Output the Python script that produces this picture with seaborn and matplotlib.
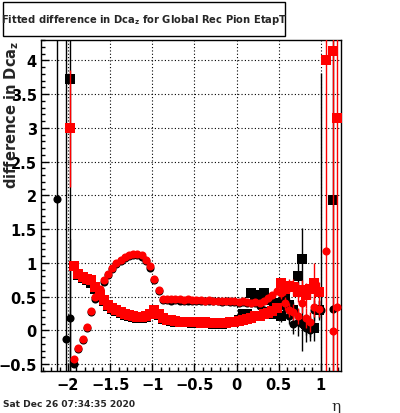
import matplotlib
matplotlib.use("Agg")
import matplotlib.pyplot as plt
import seaborn as sns
from matplotlib.patches import Rectangle
from matplotlib.ticker import MultipleLocator

# eta bin centres shared by the four fitted curves
ETA_BINS = [-1.925, -1.875, -1.825, -1.775, -1.725, -1.675, -1.625, -1.575, -1.525, -1.475,
            -1.425, -1.375, -1.325, -1.275, -1.225, -1.175, -1.125, -1.075, -1.025, -0.975,
            -0.925, -0.875, -0.825, -0.775, -0.725, -0.675, -0.625, -0.575, -0.525, -0.475,
            -0.425, -0.375, -0.325, -0.275, -0.225, -0.175, -0.125, -0.075, -0.025, 0.025,
            0.075, 0.125, 0.175, 0.225, 0.275, 0.325, 0.375, 0.425, 0.475, 0.525,
            0.575, 0.625, 0.675, 0.725, 0.775, 0.825, 0.875, 0.925, 0.975]

# sigma-like curve (squares)
RED_SIGMA = [0.96, 0.84, 0.79, 0.76, 0.74, 0.65, 0.53, 0.45, 0.37, 0.33,
             0.30, 0.27, 0.24, 0.23, 0.21, 0.20, 0.20, 0.21, 0.25, 0.30,
             0.24, 0.18, 0.16, 0.15, 0.14, 0.13, 0.13, 0.12, 0.12, 0.12,
             0.11, 0.12, 0.11, 0.11, 0.11, 0.11, 0.11, 0.12, 0.13, 0.14,
             0.16, 0.17, 0.19, 0.21, 0.22, 0.24, 0.26, 0.29, 0.34, 0.70,
             0.62, 0.66, 0.64, 0.57, 0.60, 0.52, 0.62, 0.70, 0.57]
RED_SIGMA_ERR = [0.02] * 49 + [0.08, 0.10, 0.10, 0.12, 0.15, 0.15, 0.18, 0.15, 0.30, 0.15]

BLACK_SIGMA = [0.95, 0.82, 0.77, 0.74, 0.70, 0.62, 0.50, 0.43, 0.36, 0.32,
               0.29, 0.26, 0.23, 0.22, 0.20, 0.19, 0.19, 0.20, 0.24, 0.29,
               0.23, 0.17, 0.15, 0.14, 0.13, 0.13, 0.12, 0.12, 0.11, 0.11,
               0.11, 0.11, 0.11, 0.10, 0.11, 0.10, 0.11, 0.12, 0.13, 0.15,
               0.25, 0.24, 0.55, 0.53, 0.53, 0.55, 0.45, 0.25, 0.41, 0.21,
               0.48, 0.38, 0.30, 0.80, 1.06, 0.09, 0.06, 0.04, 0.30]
BLACK_SIGMA_ERR = [0.02] * 49 + [0.08, 0.10, 0.10, 0.12, 0.20, 0.45, 0.15, 0.15, 0.20, 0.15]

# mean-like curve (circles)
RED_MEAN = [-0.42, -0.26, -0.12, 0.05, 0.29, 0.49, 0.62, 0.74, 0.84, 0.93,
            1.00, 1.05, 1.09, 1.12, 1.13, 1.13, 1.11, 1.05, 0.95, 0.76,
            0.60, 0.47, 0.46, 0.46, 0.46, 0.46, 0.45, 0.46, 0.45, 0.45,
            0.45, 0.44, 0.45, 0.44, 0.44, 0.43, 0.44, 0.43, 0.43, 0.42,
            0.43, 0.42, 0.41, 0.42, 0.41, 0.44, 0.48, 0.53, 0.58, 0.55,
            0.40, 0.30, 0.27, 0.22, 0.41, 0.18, 0.12, 0.35, 0.32]
RED_MEAN_ERR = [0.02] * 49 + [0.08, 0.10, 0.10, 0.12, 0.12, 0.15, 0.15, 0.15, 0.15, 0.12]

BLACK_MEAN = [-0.50, -0.28, -0.14, 0.03, 0.27, 0.47, 0.60, 0.72, 0.82, 0.91,
              0.98, 1.03, 1.07, 1.10, 1.11, 1.11, 1.09, 1.03, 0.93, 0.74,
              0.58, 0.45, 0.45, 0.44, 0.45, 0.44, 0.44, 0.44, 0.44, 0.43,
              0.44, 0.43, 0.43, 0.43, 0.43, 0.42, 0.43, 0.42, 0.42, 0.41,
              0.42, 0.40, 0.40, 0.40, 0.36, 0.30, 0.26, 0.40, 0.30, 0.45,
              0.35, 0.22, 0.10, 0.12, 0.10, 0.03, 0.00, 0.30, 0.31]
BLACK_MEAN_ERR = [0.02] * 49 + [0.10, 0.10, 0.12, 0.15, 0.20, 0.40, 0.20, 0.15, 0.15, 0.12]

# isolated edge bins with big uncertainties
RED_SIGMA_EDGE_ETA = [-1.975, 1.06, 1.14, 1.19]
RED_SIGMA_EDGE = [2.99, 4.00, 4.13, 3.15]
RED_SIGMA_EDGE_ERR = [0.87, 6.0, 6.0, 6.0]
RED_MEAN_EDGE_ETA = [1.06, 1.14, 1.19]
RED_MEAN_EDGE = [1.18, -0.01, 0.35]
RED_MEAN_EDGE_ERR = [0.05, 0.05, 0.05]
BLACK_SIGMA_EDGE_ETA = [-1.975, 1.14]
BLACK_SIGMA_EDGE = [3.73, 1.93]
BLACK_SIGMA_EDGE_ERR = [6.0, 3.0]
BLACK_MEAN_EDGE_ETA = [-2.125, -2.025, -1.975, 1.0, 1.14]
BLACK_MEAN_EDGE = [1.94, -0.12, 0.18, 0.31, 0.32]
BLACK_MEAN_EDGE_ERR = [6.0, 6.0, 1.17, 3.5, 0.05]


def draw_series(ax, eta, vals, errs, color, marker, size, z):
    ax.errorbar(eta, vals, yerr=errs, fmt='none', ecolor=color, elinewidth=1.0,
                capsize=0, zorder=z)
    sns.scatterplot(x=eta, y=vals, ax=ax, color=color, marker=marker, s=size,
                    linewidth=0, zorder=z + 0.5, legend=False)


def main():
    sns.set_style("ticks")
    plt.rcParams['font.family'] = ['DejaVu Sans']
    plt.rcParams['font.weight'] = 'bold'
    plt.rcParams['mathtext.default'] = 'bf'

    fig = plt.figure(figsize=(4.0, 4.14), dpi=100)
    ax = fig.add_axes([41 / 400, 42 / 414, 300 / 400, 331 / 414])

    sq, ci = 44, 34
    draw_series(ax, ETA_BINS, BLACK_SIGMA, BLACK_SIGMA_ERR, 'black', 's', sq, 2)
    draw_series(ax, BLACK_SIGMA_EDGE_ETA, BLACK_SIGMA_EDGE, BLACK_SIGMA_EDGE_ERR, 'black', 's', sq, 2)
    draw_series(ax, ETA_BINS, BLACK_MEAN, BLACK_MEAN_ERR, 'black', 'o', ci, 3)
    draw_series(ax, BLACK_MEAN_EDGE_ETA, BLACK_MEAN_EDGE, BLACK_MEAN_EDGE_ERR, 'black', 'o', ci, 3)
    draw_series(ax, ETA_BINS, RED_SIGMA, RED_SIGMA_ERR, 'red', 's', sq, 4)
    draw_series(ax, RED_SIGMA_EDGE_ETA, RED_SIGMA_EDGE, RED_SIGMA_EDGE_ERR, 'red', 's', sq, 4)
    draw_series(ax, ETA_BINS, RED_MEAN, RED_MEAN_ERR, 'red', 'o', ci, 5)
    draw_series(ax, RED_MEAN_EDGE_ETA, RED_MEAN_EDGE, RED_MEAN_EDGE_ERR, 'red', 'o', ci, 5)

    ax.set_xlim(-2.32, 1.24)
    ax.set_ylim(-0.6, 4.3)
    ax.xaxis.set_minor_locator(MultipleLocator(0.1))
    ax.yaxis.set_minor_locator(MultipleLocator(0.1))
    ax.set_xticks([-2, -1.5, -1, -0.5, 0, 0.5, 1])
    ax.set_xticklabels(['\u22122', '\u22121.5', '\u22121', '\u22120.5', '0', '0.5', '1'])
    ax.set_yticks([-0.5, 0, 0.5, 1, 1.5, 2, 2.5, 3, 3.5, 4])
    ax.set_yticklabels(['\u22120.5', '0', '0.5', '1', '1.5', '2', '2.5', '3', '3.5', '4'])
    ax.tick_params(which='both', direction='in', top=False, right=False,
                   labelsize=10.5, width=1, colors='black')
    ax.tick_params(which='major', length=6)
    ax.tick_params(which='minor', length=3)
    ax.tick_params(axis='y', pad=3)
    ax.tick_params(axis='x', pad=4)
    ax.grid(True, which='major', color='black', linestyle=(0, (1, 2)), linewidth=0.8)
    ax.set_axisbelow(True)
    for sp in ax.spines.values():
        sp.set_color('black')
        sp.set_linewidth(1)
    ax.set_xlabel('')
    ax.set_ylabel('')

    # titles drawn in figure coordinates, ROOT canvas style
    fig.add_artist(Rectangle((3 / 400, 1 - 37 / 414), 282 / 400, 34 / 414,
                             transform=fig.transFigure, facecolor='white',
                             edgecolor='black', linewidth=1))
    fig.text(144 / 400, 1 - 20 / 414, 'Fitted difference in Dca$_{z}$ for Global Rec Pion EtapT',
             ha='center', va='center', fontsize=7.2, fontweight='bold')
    fig.text(12 / 400, 1 - 41 / 414, 'difference in Dca$_{z}$', rotation=90,
             ha='center', va='top', fontsize=10.5, fontweight='bold')
    fig.text(3 / 400, 1 - 405 / 414, 'Sat Dec 26 07:34:35 2020', ha='left', va='center',
             fontsize=6.6, fontweight='bold')
    fig.text(336 / 400, 1 - 407 / 414, '\u03b7', ha='center', va='center',
             fontsize=11, fontweight='normal', family='DejaVu Serif')

    fig.savefig('out.png', dpi=100)


if __name__ == "__main__":
    main()
